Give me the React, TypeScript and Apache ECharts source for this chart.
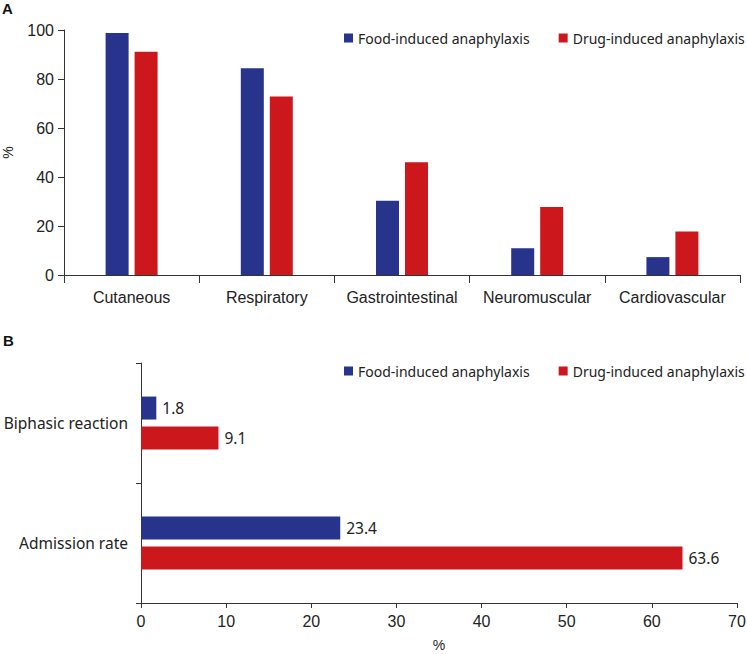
import React, { useEffect, useRef } from "react";
import * as echarts from "echarts";

const seriesNames = ["Food-induced anaphylaxis", "Drug-induced anaphylaxis"];
const systemCategories = ["Cutaneous", "Respiratory", "Gastrointestinal", "Neuromuscular", "Cardiovascular"];
const foodSystem = [98.8, 84.4, 30.3, 10.9, 7.3];
const drugSystem = [91.1, 72.9, 46.0, 27.8, 17.8];
const outcomeCategories = ["Biphasic reaction", "Admission rate"];
const foodOutcome = [1.8, 23.4];
const drugOutcome = [9.1, 63.6];

const BLUE = "#28348b";
const RED = "#cc181c";
const TXT = "#222222";
const AXIS = "#333333";

export default function App() {
  const ref = useRef<HTMLDivElement>(null);
  useEffect(() => {
    if (!ref.current) return;
    const chart = echarts.init(ref.current, null, { renderer: "svg" });
    const tickFont = { fontFamily: "Liberation Sans", fontSize: 16, color: TXT };
    const legendCommon = {
      data: seriesNames,
      orient: "horizontal",
      left: 339,
      width: 420,
      itemWidth: 9,
      itemHeight: 9,
      itemGap: 29,
      icon: "rect",
      selectedMode: false,
      textStyle: { fontFamily: "Noto Sans", fontSize: 14, color: TXT, lineHeight: 16 },
    };
    const valueLabel = { show: true, position: "right", distance: 6, fontFamily: "Noto Sans", fontSize: 15.5, color: TXT };
    chart.setOption({
      animation: false,
      graphic: [
        { type: "text", left: 2, top: 1, style: { text: "A", font: "bold 15px Liberation Sans", fill: "#111" } },
        { type: "text", left: 3, top: 333, style: { text: "B", font: "bold 15px Liberation Sans", fill: "#111" } },
      ],
      legend: [
        { ...legendCommon, top: 25 },
        { ...legendCommon, top: 358 },
      ],
      grid: [
        { left: 64, right: 7, top: 30, height: 245, containLabel: false, outerBoundsMode: "none" },
        { left: 141, right: 10, top: 363, height: 240, containLabel: false, outerBoundsMode: "none" },
      ],
      xAxis: [
        {
          type: "category",
          gridIndex: 0,
          data: systemCategories,
          axisLine: { show: true, lineStyle: { color: AXIS, width: 1 } },
          axisTick: { show: true, length: 8, lineStyle: { color: AXIS } },
          axisLabel: { ...tickFont, margin: 14, interval: 0 },
        },
        {
          type: "value",
          gridIndex: 1,
          min: 0,
          max: 70,
          interval: 10,
          name: "%",
          nameLocation: "middle",
          nameGap: 35,
          nameTextStyle: { fontFamily: "Liberation Sans", fontSize: 14, color: TXT },
          splitLine: { show: false },
          axisLine: { show: true, lineStyle: { color: AXIS } },
          axisTick: { show: true, length: 5, lineStyle: { color: AXIS } },
          axisLabel: { ...tickFont, margin: 10 },
        },
      ],
      yAxis: [
        {
          type: "value",
          gridIndex: 0,
          min: 0,
          max: 100,
          interval: 20,
          name: "%",
          nameLocation: "middle",
          nameGap: 49,
          nameTextStyle: { fontFamily: "Liberation Sans", fontSize: 14, color: TXT },
          splitLine: { show: false },
          axisLine: { show: true, lineStyle: { color: AXIS } },
          axisTick: { show: true, length: 6, lineStyle: { color: AXIS } },
          axisLabel: { ...tickFont, margin: 10 },
        },
        {
          type: "category",
          gridIndex: 1,
          data: outcomeCategories,
          inverse: true,
          axisLine: { show: true, lineStyle: { color: AXIS } },
          axisTick: { show: true, length: 5, lineStyle: { color: AXIS } },
          axisLabel: { fontFamily: "Noto Sans", fontSize: 15.5, color: TXT, margin: 13, interval: 0 },
        },
      ],
      series: [
        {
          name: seriesNames[0],
          type: "bar",
          xAxisIndex: 0,
          yAxisIndex: 0,
          data: foodSystem,
          barWidth: 23,
          barGap: "26%",
          itemStyle: { color: BLUE },
        },
        {
          name: seriesNames[1],
          type: "bar",
          xAxisIndex: 0,
          yAxisIndex: 0,
          data: drugSystem,
          barWidth: 23,
          barGap: "26%",
          itemStyle: { color: RED },
        },
        {
          name: seriesNames[0],
          type: "bar",
          xAxisIndex: 1,
          yAxisIndex: 1,
          data: foodOutcome,
          barWidth: 23,
          barGap: "30%",
          itemStyle: { color: BLUE },
          label: valueLabel,
        },
        {
          name: seriesNames[1],
          type: "bar",
          xAxisIndex: 1,
          yAxisIndex: 1,
          data: drugOutcome,
          barWidth: 23,
          barGap: "30%",
          itemStyle: { color: RED },
          label: valueLabel,
        },
      ],
    });
    return () => chart.dispose();
  }, []);
  return <div ref={ref} style={{ width: 747, height: 654, position: "absolute", left: 0, top: 0 }} />;
}
